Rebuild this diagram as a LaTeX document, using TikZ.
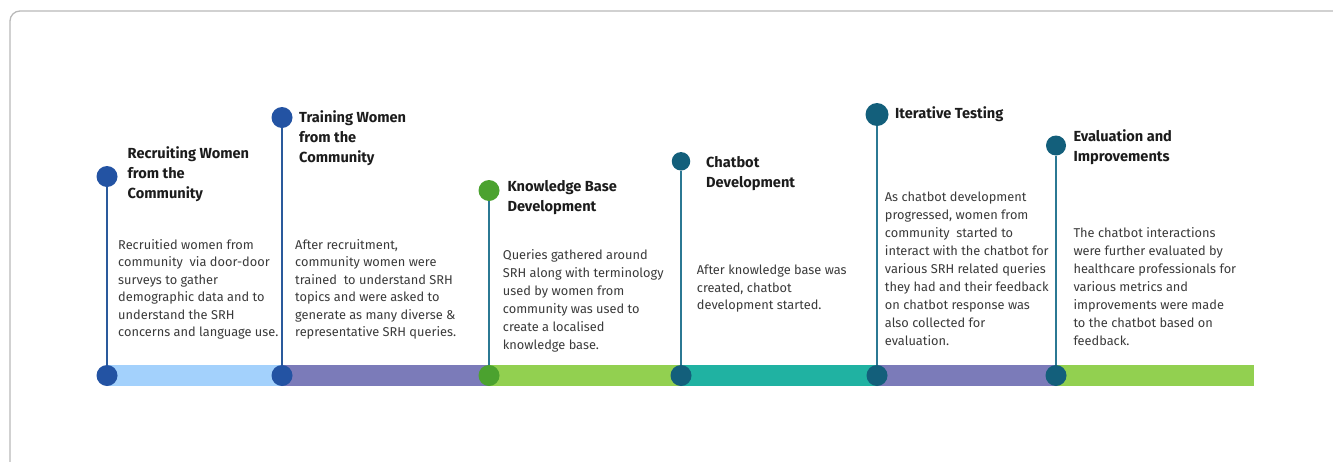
\documentclass[tikz,border=0pt]{standalone}
\usepackage{fontspec}
\setmainfont{Fira Sans}
\definecolor{frame}{HTML}{B8B8B8}
\definecolor{lblue}{HTML}{A3D1FC}
\definecolor{purp}{HTML}{7B7BB9}
\definecolor{lgreen}{HTML}{92D050}
\definecolor{teal2}{HTML}{20B2A2}
\definecolor{dblue}{HTML}{2353A3}
\definecolor{dgreen}{HTML}{4BA22F}
\definecolor{dteal}{HTML}{135F7B}
\definecolor{lineblue}{HTML}{2A5A9C}
\definecolor{lineteal}{HTML}{2B7893}
\definecolor{titlec}{HTML}{1C1C1C}
\definecolor{bodyc}{HTML}{3A3A3A}
\begin{document}
\begin{tikzpicture}[x=1pt,y=-1pt,
  dot/.style={circle,inner sep=0pt,minimum size=#1},
  title/.style={anchor=base west,inner sep=0pt,align=left,text=titlec,font=\fontsize{14.6}{19.8}\selectfont\bfseries},
  body/.style={anchor=base west,inner sep=0pt,align=left,text=bodyc,font=\fontsize{12.8}{#1}\selectfont},
  stem/.style={line width=1.3pt}]
\useasboundingbox (0,0) rectangle (1333,461);
\draw[frame,line width=1.3pt,rounded corners=10pt] (10,475) -- (10,11) -- (1345,11);
% bar
\fill[lblue] (107,365) rectangle (282,386);
\fill[purp] (282,365) rectangle (489,386);
\fill[lgreen] (489,365) rectangle (681,386);
\fill[teal2] (681,365) rectangle (877,386);
\fill[purp] (877,365) rectangle (1055,386);
\fill[lgreen] (1055,365) rectangle (1254,386);
% top dots
\node[dot=21pt,fill=dblue] (t1) at (107,176.5) {};
\node[dot=21pt,fill=dblue] (t2) at (282,117.5) {};
\node[dot=21pt,fill=dgreen] (t3) at (489,190.5) {};
\node[dot=18.5pt,fill=dteal] (t4) at (681,161.3) {};
\node[dot=23pt,fill=dteal] (t5) at (877,114.5) {};
\node[dot=20pt,fill=dteal] (t6) at (1056,145.5) {};
% bottom dots
\node[dot=21pt,fill=dblue] (b1) at (107,375.5) {};
\node[dot=21pt,fill=dblue] (b2) at (282,375.5) {};
\node[dot=21pt,fill=dgreen] (b3) at (489,375.5) {};
\node[dot=21pt,fill=dteal] (b4) at (681,375.5) {};
\node[dot=21pt,fill=dteal] (b5) at (877,375.5) {};
\node[dot=21pt,fill=dteal] (b6) at (1056,375.5) {};
% stems
\draw[stem,lineblue] (t1) -- (b1);
\draw[stem,lineblue] (t2) -- (b2);
\draw[stem,lineteal] (t3) -- (b3);
\draw[stem,lineteal] (t4) -- (b4);
\draw[stem,lineteal] (t5) -- (b5);
\draw[stem,lineteal] (t6) -- (b6);
% titles (anchor = baseline of last line)
\node[title] (h1) at (127.5,198.4) {Recruiting Women\\from the\\Community};
\node[title] (h2) at (299,162.4) {Training Women\\from the\\Community};
\node[title] (h3) at (507.3,211) {Knowledge Base\\Development};
\node[title] (h4) at (706,187.3) {Chatbot\\Development};
\node[title] (h5) at (895,118.8) {Iterative Testing};
\node[title] (h6) at (1073.3,161.3) {Evaluation and\\Improvements};
% bodies (anchor = baseline of last line)
\node[body=17.4] (d1) at (118,336.5) {Recruitied women from\\community\ \ via door-door\\surveys to gather\\demographic data and to\\understand the SRH\\concerns and language use.};
\node[body=17.4] (d2) at (295,336.5) {After recruitment,\\community women were\\trained\ \ to understand SRH\\topics and were asked to\\generate as many diverse \&\\representative SRH queries.};
\node[body=18] (d3) at (502.7,349.5) {Queries gathered around\\SRH along with terminology\\used by women from\\community was used to\\create a localised\\knowledge base.};
\node[body=17.7] (d4) at (696.7,309.9) {After knowledge base was\\created, chatbot\\development started.};
\node[body=18] (d5) at (884.7,345.2) {As chatbot development\\progressed, women from\\community\ \ started to\\interact with the chatbot for\\various SRH related queries\\they had and their feedback\\on chatbot response was\\also collected for\\evaluation.};
\node[body=18] (d6) at (1073.3,345.2) {The chatbot interactions\\were further evaluated by\\healthcare professionals for\\various metrics and\\improvements were made\\to the chatbot based on\\feedback.};
\end{tikzpicture}
\end{document}
